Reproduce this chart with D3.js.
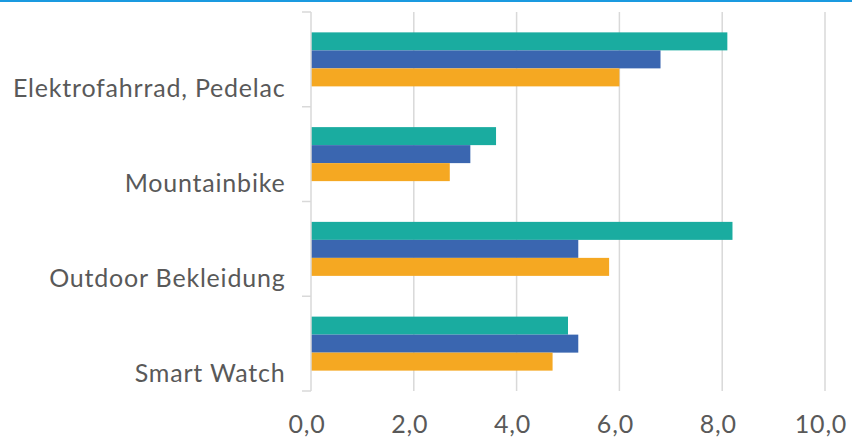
<!DOCTYPE html>
<html><head><meta charset="utf-8">
<script src="https://cdn.jsdelivr.net/npm/d3@7/dist/d3.min.js"></script>
<style>body{margin:0;background:#fff}svg{display:block}</style>
</head><body>
<script>
const categories = ["Elektrofahrrad, Pedelac", "Mountainbike", "Outdoor Bekleidung", "Smart Watch"];
const seriesNames = ["Serie 1", "Serie 2", "Serie 3"];
const seriesTeal = [8.1, 3.6, 8.2, 5.0];
const seriesBlue = [6.8, 3.1, 5.2, 5.2];
const seriesOrange = [6.0, 2.7, 5.8, 4.7];
const xTicks = [0, 2, 4, 6, 8, 10];
const colors = ["#1aaca0", "#3a66b0", "#f5a822"];

const W = 852, H = 438;
const svg = d3.select("body").append("svg").attr("width", W).attr("height", H);
svg.append("rect").attr("x", 0).attr("y", 0).attr("width", W).attr("height", 2).attr("fill", "#1a9ae0");

const x = d3.scaleLinear().domain([0, 10]).range([311, 825]);
const y = d3.scaleBand().domain(categories).range([12, 391]).paddingInner(0.43).paddingOuter(0.215);
const ySub = d3.scaleBand().domain([0, 1, 2]).range([0, y.bandwidth()]);
const yOuter = d3.scaleBand().domain(categories).range([12, 391]);

// gridlines
svg.append("g").selectAll("line").data(xTicks.slice(1)).join("line")
  .attr("x1", d => x(d)).attr("x2", d => x(d)).attr("y1", 12).attr("y2", 391)
  .attr("stroke", "#d9d9d9").attr("stroke-width", 1.5);

const series = [seriesTeal, seriesBlue, seriesOrange];
const g = svg.append("g");
series.forEach((vals, si) => {
  g.selectAll(null).data(categories).join("rect")
    .attr("x", x(0))
    .attr("y", c => y(c) + ySub(si))
    .attr("width", (c, i) => x(vals[i]) - x(0))
    .attr("height", ySub.bandwidth())
    .attr("fill", colors[si]);
});

// axis line + category ticks
svg.append("line").attr("x1", 311).attr("x2", 311).attr("y1", 12).attr("y2", 391)
  .attr("stroke", "#d9d9d9").attr("stroke-width", 1.5);
const bounds = categories.map(c => yOuter(c)).concat([391]);
svg.append("g").selectAll("line").data(bounds).join("line")
  .attr("x1", 302).attr("x2", 311).attr("y1", d => d).attr("y2", d => d)
  .attr("stroke", "#d9d9d9").attr("stroke-width", 1.5);

// category labels
svg.append("g").selectAll("text").data(categories).join("text")
  .attr("x", 285.5).attr("y", c => yOuter(c) + yOuter.bandwidth() / 2 + 38)
  .attr("text-anchor", "end")
  .attr("font-family", "Lato, sans-serif").attr("font-size", 25).attr("letter-spacing", "0.8px").attr("fill", "#595959")
  .text(d => d);

// x tick labels
svg.append("g").selectAll("text").data(xTicks).join("text")
  .attr("x", d => x(d) - 4).attr("y", 433)
  .attr("text-anchor", "middle")
  .attr("font-family", "Lato, sans-serif").attr("font-size", 25).attr("letter-spacing", "0.8px").attr("fill", "#595959")
  .text(d => d.toFixed(1).replace(".", ","));
</script>
</body></html>
